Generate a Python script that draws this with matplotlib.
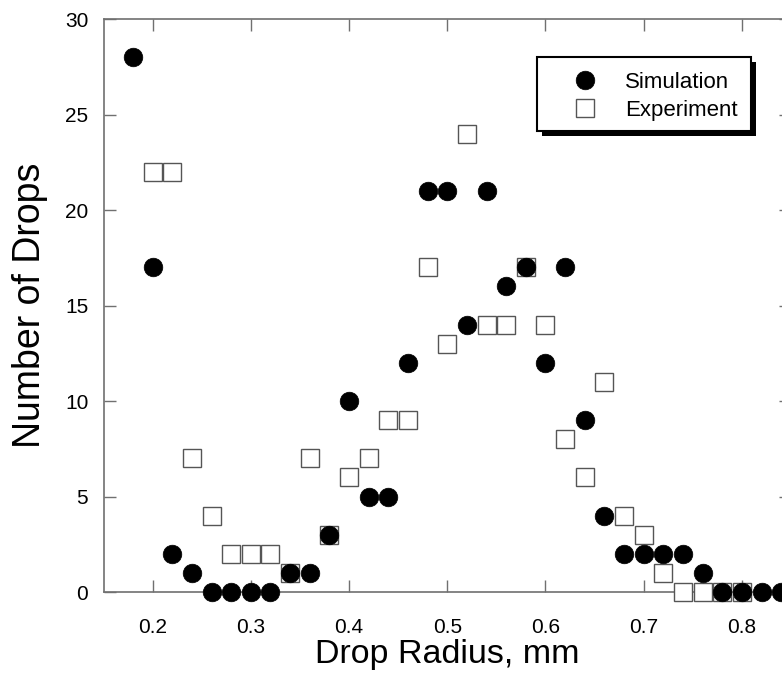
import numpy as np
import matplotlib.pyplot as plt
from matplotlib.patches import Rectangle

plt.rcParams['font.family'] = ['Liberation Sans', 'DejaVu Sans']

# ----------------------------------
# Data
# ----------------------------------

sim_radius = [0.18, 0.20, 0.22, 0.24, 0.26, 0.28, 0.30, 0.32, 0.34, 0.36,
              0.38, 0.40, 0.42, 0.44, 0.46, 0.48, 0.50, 0.52, 0.54, 0.56,
              0.58, 0.60, 0.62, 0.64, 0.66, 0.68, 0.70, 0.72, 0.74, 0.76,
              0.78, 0.80, 0.82, 0.84]
sim_count = [28, 17, 2, 1, 0, 0, 0, 0, 1, 1,
             3, 10, 5, 5, 12, 21, 21, 14, 21, 16,
             17, 12, 17, 9, 4, 2, 2, 2, 2, 1,
             0, 0, 0, 0]

exp_radius = [0.20, 0.22, 0.24, 0.26, 0.28, 0.30, 0.32, 0.34, 0.36, 0.38,
              0.40, 0.42, 0.44, 0.46, 0.48, 0.50, 0.52, 0.54, 0.56, 0.58,
              0.60, 0.62, 0.64, 0.66, 0.68, 0.70, 0.72, 0.74, 0.76, 0.78,
              0.80]
exp_count = [22, 22, 7, 4, 2, 2, 2, 1, 7, 3,
             6, 7, 9, 9, 17, 13, 24, 14, 14, 17,
             14, 8, 6, 11, 4, 3, 1, 0, 0, 0,
             0]

x_ticks = [0.2, 0.3, 0.4, 0.5, 0.6, 0.7, 0.8]
y_ticks = [0, 5, 10, 15, 20, 25, 30]

# ----------------------------------
# Plot
# ----------------------------------

W, H = 782, 679
fig = plt.figure(figsize=(W / 100, H / 100), dpi=100)
ax = fig.add_axes([0.1324, 0.1281, 1.0115 - 0.1324, 0.972 - 0.1281])

exp_line, = ax.plot(exp_radius, exp_count, linestyle='none', marker='s',
                    markersize=13.6, markerfacecolor='white',
                    markeredgecolor='#555555', markeredgewidth=1.0,
                    clip_on=False, zorder=3, label='Experiment')
sim_line, = ax.plot(sim_radius, sim_count, linestyle='none', marker='o',
                    markersize=13.4, markerfacecolor='black',
                    markeredgecolor='black', markeredgewidth=0.5,
                    clip_on=False, zorder=4, label='Simulation')

ax.set_xlim(0.15, 0.85)
ax.set_ylim(0, 30)
ax.set_xticks(x_ticks)
ax.set_yticks(y_ticks)
ax.set_xticklabels([f"{v:.1f}" for v in x_ticks])
ax.set_yticklabels([str(v) for v in y_ticks])

for side in ['left', 'right', 'top', 'bottom']:
    ax.spines[side].set_color('#707070')
    ax.spines[side].set_linewidth(1.2)

ax.tick_params(direction='in', length=8.6, width=1.0, color='#707070',
               top=True, right=True, labelsize=15)
ax.tick_params(axis='x', pad=18.5)
ax.tick_params(axis='y', pad=11)

ax.set_xlabel("Drop Radius, mm", fontsize=24.5, labelpad=2)
ax.set_ylabel("Number of Drops", fontsize=27, labelpad=12)

# ----------------------------------
# Legend box with solid black shadow
# ----------------------------------

box_x0, box_x1 = 537, 751
box_y0, box_y1 = 57, 131  # pixels from top

shadow = Rectangle(((box_x0 + 5) / W, 1 - (box_y1 + 5) / H),
                   (box_x1 - box_x0) / W, (box_y1 - box_y0) / H,
                   transform=fig.transFigure, facecolor='black',
                   edgecolor='none', zorder=8, clip_on=False)
frame = Rectangle((box_x0 / W, 1 - box_y1 / H),
                  (box_x1 - box_x0) / W, (box_y1 - box_y0) / H,
                  transform=fig.transFigure, facecolor='white',
                  edgecolor='black', linewidth=1.5, zorder=9, clip_on=False)
ax.add_patch(shadow)
ax.add_patch(frame)

leg = ax.legend(handles=[sim_line, exp_line], loc='center left',
                bbox_to_anchor=(563 / W, 1 - 96.5 / H),
                bbox_transform=fig.transFigure,
                fontsize=16, frameon=False,
                borderpad=0, handletextpad=0.8, labelspacing=0.3,
                handlelength=2.0, borderaxespad=0)
leg.set_zorder(10)

plt.savefig("out.png", dpi=100)
